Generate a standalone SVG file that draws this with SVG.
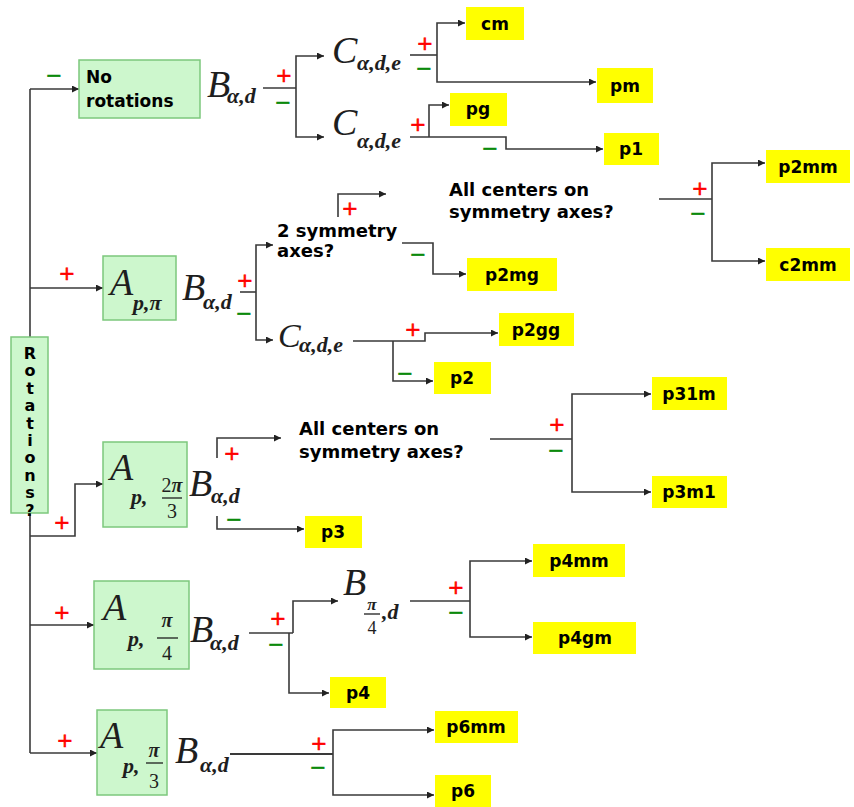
<svg xmlns="http://www.w3.org/2000/svg" width="854" height="807" viewBox="0 0 854 807">
<style>
.ln{fill:none;stroke:#3a3a3a;stroke-width:1.6}
.ar{marker-end:url(#ah)}
.gbox{fill:#cdf7cd;stroke:#7cc87c;stroke-width:1.5}
.ybox{fill:#ffff00}
.lbl{font-family:"DejaVu Sans",sans-serif;font-weight:bold;font-size:17px;fill:#000;text-anchor:middle}
.q{font-family:"DejaVu Sans",sans-serif;font-weight:bold;font-size:18px;fill:#000}
.rot{font-family:"DejaVu Sans",sans-serif;font-weight:bold;font-size:16px;fill:#000;writing-mode:vertical-rl;text-orientation:upright;letter-spacing:-1.6px}
.m{font-family:"Liberation Serif",serif;font-style:italic;font-size:38px;fill:#1e1e1e}
.s{font-family:"Liberation Serif",serif;font-style:italic;font-weight:bold;font-size:22px;fill:#1e1e1e}
.f{font-family:"Liberation Serif",serif;font-size:20px;fill:#1e1e1e;text-anchor:middle}
.bar{stroke:#1e1e1e;stroke-width:1.3}
.pl{font-family:"DejaVu Sans",sans-serif;font-size:20px;fill:#ff0000;stroke:#ff0000;stroke-width:0.6;text-anchor:middle}
.mi{font-family:"DejaVu Sans",sans-serif;font-size:20px;fill:#0a8a0a;stroke:#0a8a0a;stroke-width:0.6;text-anchor:middle}
</style>
<defs>
<marker id="ah" viewBox="0 0 10 10" refX="10" refY="5" markerWidth="9" markerHeight="7" markerUnits="userSpaceOnUse" orient="auto">
<path d="M0,0 L10,5 L0,10 z" fill="#222"/>
</marker>
</defs>
<rect width="854" height="807" fill="#fff"/>

<g id="connectors">
<path class="ln" d="M30,89 V753"/>
<path class="ln ar" d="M30,89 H79"/>
<path class="ln ar" d="M30,288 H103"/>
<path class="ln ar" d="M30,536 H75 V484 H103"/>
<path class="ln ar" d="M30,625 H94"/>
<path class="ln ar" d="M30,753 H97"/>

<path class="ln" d="M263,88 H296"/>
<path class="ln ar" d="M296,88 V56 H324"/>
<path class="ln ar" d="M296,88 V137 H324"/>
<path class="ln" d="M410,55 H437"/>
<path class="ln ar" d="M437,55 V23 H465"/>
<path class="ln ar" d="M437,55 V82 H596"/>
<path class="ln ar" d="M410,137 H506 V149 H603"/>
<path class="ln ar" d="M429,137 V105 H449"/>

<path class="ln" d="M240,292 H256"/>
<path class="ln ar" d="M256,292 V245 H273"/>
<path class="ln ar" d="M256,292 V340 H273"/>
<path class="ln ar" d="M338,217 V194 H386"/>
<path class="ln ar" d="M402,243 H433 V274 H466"/>
<path class="ln" d="M659,199 H712"/>
<path class="ln ar" d="M712,199 V163 H765"/>
<path class="ln ar" d="M712,199 V261 H765"/>
<path class="ln ar" d="M353,341 H425 V333 H498"/>
<path class="ln ar" d="M393,341 V381 H433"/>

<path class="ln ar" d="M217,458 V438 H281"/>
<path class="ln ar" d="M217,516 V529 H304"/>
<path class="ln" d="M490,439 H572"/>
<path class="ln ar" d="M572,439 V394 H651"/>
<path class="ln ar" d="M572,439 V492 H651"/>

<path class="ln" d="M249,633 H293"/>
<path class="ln ar" d="M293,633 V601 H338"/>
<path class="ln ar" d="M289,633 V693 H329"/>
<path class="ln" d="M410,601 H470"/>
<path class="ln ar" d="M470,601 V561 H532"/>
<path class="ln ar" d="M470,601 V637 H532"/>

<path class="ln" d="M230,754 H333" style="stroke-width:2.2"/>
<path class="ln ar" d="M333,754 V730 H434"/>
<path class="ln ar" d="M333,754 V795 H434"/>
</g>

<g id="edge-labels">
<text class="mi" x="54" y="82">−</text>
<text class="pl" x="67" y="280">+</text>
<text class="pl" x="62" y="529">+</text>
<text class="pl" x="62" y="619">+</text>
<text class="pl" x="65" y="747">+</text>
<text class="pl" x="284" y="82">+</text>
<text class="mi" x="283" y="109">−</text>
<text class="pl" x="425" y="50">+</text>
<text class="mi" x="424" y="75">−</text>
<text class="pl" x="418" y="131">+</text>
<text class="mi" x="490" y="155">−</text>
<text class="pl" x="245" y="287">+</text>
<text class="mi" x="244" y="320">−</text>
<text class="pl" x="350" y="215">+</text>
<text class="mi" x="418" y="261">−</text>
<text class="pl" x="700" y="195">+</text>
<text class="mi" x="698" y="220">−</text>
<text class="pl" x="413" y="336">+</text>
<text class="mi" x="405" y="380">−</text>
<text class="pl" x="232" y="460">+</text>
<text class="mi" x="234" y="526">−</text>
<text class="pl" x="557" y="431">+</text>
<text class="mi" x="556" y="457">−</text>
<text class="pl" x="278" y="625">+</text>
<text class="mi" x="276" y="651">−</text>
<text class="pl" x="456" y="594">+</text>
<text class="mi" x="456" y="619">−</text>
<text class="pl" x="319" y="750">+</text>
<text class="mi" x="318" y="774">−</text>
</g>

<g id="n-rotations">
<rect class="gbox" x="11" y="337" width="37" height="176"/>
<text class="rot" x="30" y="344">Rotations?</text>
</g>

<g id="n-norot">
<rect class="gbox" x="79" y="60" width="121" height="58"/>
<text class="q" x="86" y="83" style="font-size:17px">No</text>
<text class="q" x="86" y="107" style="font-size:17px">rotations</text>
</g>
<g id="n-B1"><text class="m" x="207" y="97">B</text><text class="s" x="227" y="103">α,d</text></g>
<g id="n-C1"><text class="m" x="332" y="63">C</text><text class="s" x="357" y="70">α,d,e</text></g>
<g id="n-C2"><text class="m" x="332" y="135">C</text><text class="s" x="357" y="148">α,d,e</text></g>
<g id="n-cm"><rect class="ybox" x="466" y="7" width="58" height="33"/><text class="lbl" x="495" y="30">cm</text></g>
<g id="n-pm"><rect class="ybox" x="597" y="68" width="56" height="35"/><text class="lbl" x="625" y="92">pm</text></g>
<g id="n-pg"><rect class="ybox" x="450" y="93" width="57" height="33"/><text class="lbl" x="478" y="115">pg</text></g>
<g id="n-p1"><rect class="ybox" x="604" y="133" width="55" height="32"/><text class="lbl" x="631" y="155">p1</text></g>

<g id="n-Api">
<rect class="gbox" x="103" y="256" width="73" height="64"/>
<text class="m" x="110" y="295">A</text><text class="s" x="133" y="310">p,π</text>
</g>
<g id="n-B2"><text class="m" x="182" y="300">B</text><text class="s" x="203" y="309">α,d</text></g>
<g id="n-sym2"><text class="q" x="277" y="237">2 symmetry</text><text class="q" x="277" y="257">axes?</text></g>
<g id="n-allc1"><text class="q" x="449" y="196">All centers on</text><text class="q" x="449" y="218">symmetry axes?</text></g>
<g id="n-p2mm"><rect class="ybox" x="766" y="150" width="84" height="33"/><text class="lbl" x="808" y="173">p2mm</text></g>
<g id="n-c2mm"><rect class="ybox" x="766" y="248" width="84" height="33"/><text class="lbl" x="808" y="271">c2mm</text></g>
<g id="n-p2mg"><rect class="ybox" x="467" y="258" width="90" height="33"/><text class="lbl" x="512" y="281">p2mg</text></g>
<g id="n-C3"><text class="m" x="278" y="347" style="font-size:34px">C</text><text class="s" x="299" y="352">α,d,e</text></g>
<g id="n-p2gg"><rect class="ybox" x="499" y="313" width="75" height="33"/><text class="lbl" x="536" y="336">p2gg</text></g>
<g id="n-p2"><rect class="ybox" x="434" y="362" width="57" height="32"/><text class="lbl" x="462" y="384">p2</text></g>

<g id="n-A3">
<rect class="gbox" x="103" y="442" width="84" height="85"/>
<text class="m" x="110" y="480">A</text><text class="s" x="131" y="504">p,</text>
<text class="f" x="172" y="492">2<tspan font-style="italic" font-weight="bold">π</tspan></text>
<line class="bar" x1="162" y1="498" x2="182" y2="498"/>
<text class="f" x="172" y="518">3</text>
</g>
<g id="n-B3"><text class="m" x="189" y="496">B</text><text class="s" x="211" y="503">α,d</text></g>
<g id="n-allc2"><text class="q" x="299" y="435">All centers on</text><text class="q" x="299" y="458">symmetry axes?</text></g>
<g id="n-p31m"><rect class="ybox" x="652" y="377" width="75" height="33"/><text class="lbl" x="689" y="400">p31m</text></g>
<g id="n-p3m1"><rect class="ybox" x="652" y="476" width="75" height="32"/><text class="lbl" x="689" y="498">p3m1</text></g>
<g id="n-p3"><rect class="ybox" x="305" y="516" width="57" height="32"/><text class="lbl" x="333" y="538">p3</text></g>

<g id="n-A4">
<rect class="gbox" x="94" y="581" width="95" height="88"/>
<text class="m" x="103" y="620">A</text><text class="s" x="128" y="646">p,</text>
<text class="f" x="167" y="627" font-style="italic" font-weight="bold">π</text>
<line class="bar" x1="157" y1="638" x2="178" y2="638"/>
<text class="f" x="167" y="660">4</text>
</g>
<g id="n-B4"><text class="m" x="190" y="642">B</text><text class="s" x="210" y="650">α,d</text></g>
<g id="n-Bpi4">
<text class="m" x="343" y="595">B</text>
<text class="f" x="372" y="610" font-style="italic" font-weight="bold" style="font-size:17px">π</text>
<line class="bar" x1="364" y1="614" x2="380" y2="614"/>
<text class="f" x="372" y="634" style="font-size:18px">4</text>
<text class="s" x="382" y="619">,d</text>
</g>
<g id="n-p4mm"><rect class="ybox" x="533" y="544" width="92" height="33"/><text class="lbl" x="579" y="567">p4mm</text></g>
<g id="n-p4gm"><rect class="ybox" x="533" y="622" width="103" height="32"/><text class="lbl" x="585" y="644">p4gm</text></g>
<g id="n-p4"><rect class="ybox" x="330" y="677" width="56" height="31"/><text class="lbl" x="358" y="699">p4</text></g>

<g id="n-A5">
<rect class="gbox" x="97" y="710" width="70" height="85"/>
<text class="m" x="100" y="748">A</text><text class="s" x="123" y="773">p,</text>
<text class="f" x="154" y="757" font-style="italic" font-weight="bold">π</text>
<line class="bar" x1="146" y1="763" x2="163" y2="763"/>
<text class="f" x="154" y="788">3</text>
</g>
<g id="n-B5"><text class="m" x="175" y="763">B</text><text class="s" x="200" y="772">α,d</text></g>
<g id="n-p6mm"><rect class="ybox" x="435" y="711" width="83" height="32"/><text class="lbl" x="476" y="733">p6mm</text></g>
<g id="n-p6"><rect class="ybox" x="435" y="775" width="56" height="32"/><text class="lbl" x="463" y="797">p6</text></g>
</svg>
